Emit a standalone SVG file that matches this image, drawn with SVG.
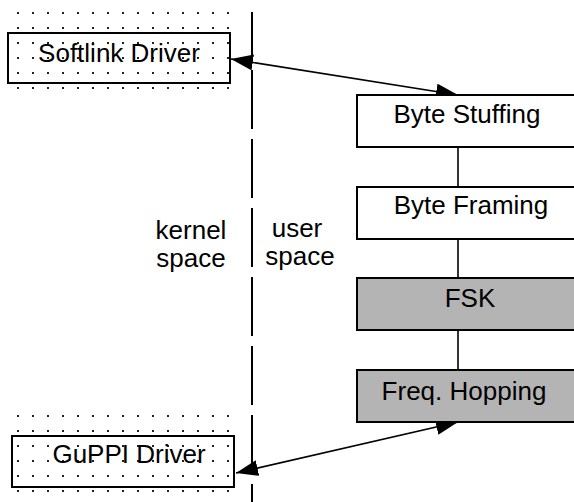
<svg xmlns="http://www.w3.org/2000/svg" width="574" height="502" viewBox="0 0 574 502">
<style>
  .t{font-family:"Liberation Sans",Arial,sans-serif;font-size:26px;fill:#000;text-anchor:middle}
  .box{fill:#fff;stroke:#000;stroke-width:2}
  .gray{fill:#b4b4b4;stroke:#000;stroke-width:2}
  .drv{fill:none;stroke:#000;stroke-width:2}
  .con{stroke:#000;stroke-width:1.6;fill:none}
</style>
<defs>
  <pattern id="dotsTop" x="17" y="12" width="15" height="15" patternUnits="userSpaceOnUse">
    <rect x="0" y="0" width="2" height="2" fill="#222"/>
  </pattern>
  <pattern id="dotsBot" x="17" y="415" width="15" height="15" patternUnits="userSpaceOnUse">
    <rect x="0" y="0" width="2" height="2" fill="#222"/>
  </pattern>
  <marker id="ah" viewBox="0 0 22 16" refX="22" refY="8" markerWidth="22" markerHeight="16" markerUnits="userSpaceOnUse" orient="auto-start-reverse">
    <path d="M0,0 L22,8 L0,16 z" fill="#000"/>
  </marker>
</defs>
<rect width="574" height="502" fill="#fff"/>

<g id="boundary">
  <line x1="252" y1="12" x2="252" y2="502" stroke="#000" stroke-width="2" stroke-dasharray="59 10" stroke-dashoffset="11"/>
  <text class="t" x="191" y="239">kernel</text>
  <text class="t" x="191" y="267">space</text>
  <text class="t" x="297" y="237">user</text>
  <text class="t" x="300" y="265">space</text>
</g>

<g id="softlink">
  <rect x="16" y="11" width="216" height="80" fill="url(#dotsTop)"/>
  <rect class="drv" x="8" y="33" width="222" height="50"/>
  <text class="t" x="119" y="62">Softlink Driver</text>
</g>

<g id="guppi">
  <rect x="16" y="414" width="216" height="80" fill="url(#dotsBot)"/>
  <rect class="drv" x="12" y="436" width="222" height="51"/>
  <text class="t" x="129" y="463">GuPPI Driver</text>
</g>

<g id="connectors">
  <line class="con" x1="458" y1="147" x2="458" y2="187"/>
  <line class="con" x1="458" y1="239" x2="458" y2="278"/>
  <line class="con" x1="458" y1="330" x2="458" y2="370"/>
  <line class="con" x1="231" y1="59" x2="458" y2="95" marker-start="url(#ah)" marker-end="url(#ah)"/>
  <line class="con" x1="236" y1="473" x2="458" y2="422" marker-start="url(#ah)" marker-end="url(#ah)"/>
</g>

<g id="stuffing">
  <rect class="box" x="357" y="95" width="222" height="52"/>
  <text class="t" x="467" y="123">Byte Stuffing</text>
</g>
<g id="framing">
  <rect class="box" x="357" y="187" width="222" height="52"/>
  <text class="t" x="471" y="214">Byte Framing</text>
</g>
<g id="fsk">
  <rect class="gray" x="357" y="278" width="222" height="52"/>
  <text class="t" x="470" y="307">FSK</text>
</g>
<g id="hopping">
  <rect class="gray" x="357" y="370" width="222" height="52"/>
  <text class="t" x="464" y="400">Freq. Hopping</text>
</g>
</svg>
